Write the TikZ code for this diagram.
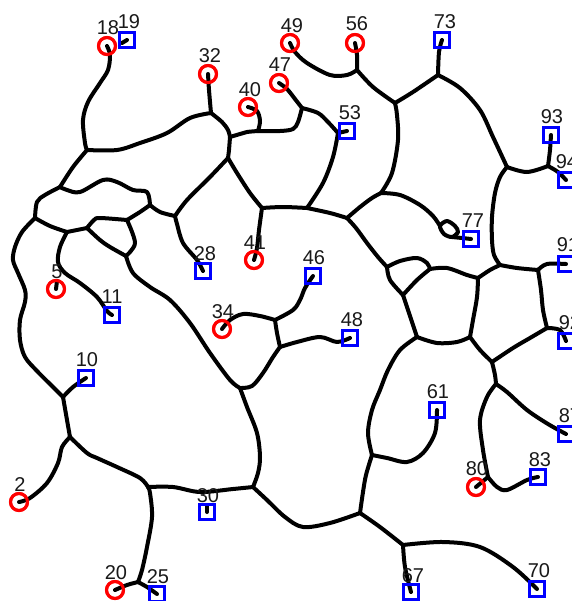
\documentclass[tikz,border=0pt]{standalone}
\usepackage{fontspec}
\setmainfont{Liberation Sans}
\begin{document}
\begin{tikzpicture}[x=0.75pt,y=-0.75pt]
\tikzset{
 edge/.style={line width=3pt, line cap=round, line join=round, draw=black},
 sm/.style={smooth, tension=0.55},
 redm/.style={circle, draw=red, line width=2.2pt, minimum size=12.8pt, inner sep=0pt},
 bluem/.style={rectangle, draw=blue, line width=1.9pt, minimum size=11.3pt, inner sep=0pt},
 lab/.style={font=\fontsize{15}{16}\selectfont, text=black!90, inner sep=0pt}
}
\useasboundingbox (0,0) rectangle (572,601);
\clip (0,0) rectangle (572,601);
\fill[white] (0,0) rectangle (572,601);

% markers (positions)
\node[redm] (m18) at (107,46) {};
\node[bluem] (m19) at (127,40) {};
\node[redm] (m32) at (208,74) {};
\node[redm] (m40) at (248,107) {};
\node[redm] (m47) at (279,83) {};
\node[redm] (m49) at (290,43) {};
\node[redm] (m56) at (355,43) {};
\node[redm] (m41) at (254,260) {};
\node[redm] (m5) at (56,289) {};
\node[redm] (m34) at (222,329) {};
\node[redm] (m2) at (19,502) {};
\node[redm] (m20) at (115,590) {};
\node[redm] (m80) at (476,487) {};
\node[bluem] (m73) at (442,40) {};
\node[bluem] (m53) at (347,131) {};
\node[bluem] (m93) at (551,135) {};
\node[bluem] (m94) at (566,180) {};
\node[bluem] (m77) at (471,239) {};
\node[bluem] (m28) at (203,271) {};
\node[bluem] (m46) at (313,276) {};
\node[bluem] (m91) at (566,264) {};
\node[bluem] (m11) at (112,315) {};
\node[bluem] (m48) at (350,338) {};
\node[bluem] (m92) at (566,341) {};
\node[bluem] (m10) at (86,378) {};
\node[bluem] (m61) at (437,410) {};
\node[bluem] (m87) at (566,434) {};
\node[bluem] (m83) at (538,477) {};
\node[bluem] (m30) at (207,512) {};
\node[bluem] (m25) at (157,594) {};
\node[bluem] (m67) at (411,592) {};
\node[bluem] (m70) at (537,589) {};

% junctions
\coordinate (J1) at (87,150);
\coordinate (J2) at (211,113);
\coordinate (J3) at (230,137);
\coordinate (J4) at (228,158);
\coordinate (K40) at (258,131);
\coordinate (J5) at (60,187);
\coordinate (J6) at (150,205);
\coordinate (J7) at (175,216);
\coordinate (J8) at (127,220);
\coordinate (J9) at (35,218);
\coordinate (J10) at (67,232);
\coordinate (J11) at (87,228);
\coordinate (J12) at (126,256);
\coordinate (J13) at (63,397);
\coordinate (J14) at (240,388);
\coordinate (J15) at (262,208);
\coordinate (J16) at (275,320);
\coordinate (J17) at (280,347);
\coordinate (J18) at (302,108);
\coordinate (J19) at (338,133);
\coordinate (J20) at (307,208);
\coordinate (J21) at (347,218);
\coordinate (J22) at (381,193);
\coordinate (J23) at (357,70);
\coordinate (J24) at (395,103);
\coordinate (J25) at (438,75);
\coordinate (J26) at (507,167);
\coordinate (J27) at (548,166);
\coordinate (J28) at (387,267);
\coordinate (J29) at (430,269);
\coordinate (J30) at (403,295);
\coordinate (J31) at (478,278);
\coordinate (J32) at (500,265);
\coordinate (J33) at (538,270);
\coordinate (J34) at (547,328);
\coordinate (J35) at (417,337);
\coordinate (J36) at (470,337);
\coordinate (J37) at (492,362);
\coordinate (J38) at (496,384);
\coordinate (J39) at (488,477);
\coordinate (J40) at (372,455);
\coordinate (J41) at (360,513);
\coordinate (J42) at (403,545);
\coordinate (J43) at (70,437);
\coordinate (J44) at (148,487);
\coordinate (J45) at (253,487);
\coordinate (J46) at (138,582);
\coordinate (L77a) at (440,226);
\coordinate (L77b) at (452,237);

% edges
\draw[edge] plot[sm] coordinates {(m18.center) (110,55) (108,70) (100,83) (88,102) (83,120) (85,143) (J1)};
\draw[edge] plot[sm] coordinates {(J1) (117,150) (140,143) (167,133) (190,118) (J2)};
\draw[edge] plot[sm] coordinates {(m32.center) (209,90) (J2)};
\draw[edge] plot[sm] coordinates {(J2) (222,122) (228,130) (J3)};
\draw[edge] plot[sm] coordinates {(J3) (229,150) (J4)};
\draw[edge] plot[sm] coordinates {(J3) (240,134) (247,132) (K40)};
\draw[edge] plot[sm] coordinates {(K40) (280,131) (293,129) (298,122) (J18)};
\draw[edge] plot[sm] coordinates {(m40.center) (257,111) (260,121) (K40)};
\draw[edge] plot[sm] coordinates {(m47.center) (287,89) (295,99) (J18)};
\draw[edge] plot[sm] coordinates {(J18) (318,113) (328,122) (J19)};
\draw[edge] (J19) -- (m53.center);
\draw[edge] plot[sm] coordinates {(J19) (333,157) (323,183) (J20)};
\draw[edge] plot[sm] coordinates {(J4) (210,177) (187,200) (J7)};
\draw[edge] plot[sm] coordinates {(J4) (237,173) (250,193) (J15)};
\draw[edge] plot[sm] coordinates {(J15) (259,230) (257,248) (m41.center)};
\draw[edge] plot[sm] coordinates {(J15) (283,207) (J20)};
\draw[edge] plot[sm] coordinates {(J20) (330,213) (J21)};
\draw[edge] plot[sm] coordinates {(J21) (360,207) (372,198) (J22)};
\draw[edge] plot[sm] coordinates {(J22) (392,173) (398,140) (397,115) (J24)};
\draw[edge] plot[sm] coordinates {(J22) (400,195) (420,205) (433,216) (L77a)};
\draw[edge] plot[smooth cycle, tension=0.5] coordinates {(L77a) (447,221) (455,226) (458,232) (L77b) (444,234)};
\draw[edge] plot[sm] coordinates {(L77b) (462,238) (m77.center)};
\draw[edge] plot[sm] coordinates {(m49.center) (295,52) (307,63) (330,75) (347,75) (J23)};
\draw[edge] plot[sm] coordinates {(m56.center) (357,55) (J23)};
\draw[edge] plot[sm] coordinates {(J23) (373,87) (J24)};
\draw[edge] plot[sm] coordinates {(J24) (413,92) (J25)};
\draw[edge] plot[sm] coordinates {(m73.center) (439,52) (J25)};
\draw[edge] plot[sm] coordinates {(J25) (460,88) (480,110) (493,137) (J26)};
\draw[edge] plot[sm] coordinates {(J26) (527,172) (J27)};
\draw[edge] plot[sm] coordinates {(m93.center) (550,150) (J27)};
\draw[edge] plot[sm] coordinates {(J27) (558,172) (m94.center)};
\draw[edge] plot[sm] coordinates {(J26) (500,177) (495,193) (492,217) (492,240) (494,255) (J32)};
\draw[edge] plot[sm] coordinates {(J21) (356,228) (367,243) (378,257) (J28)};
\draw[edge] plot[sm] coordinates {(J28) (400,261) (417,258) (427,263) (J29)};
\draw[edge] plot[sm] coordinates {(J28) (390,280) (J30)};
\draw[edge] plot[sm] coordinates {(J29) (417,280) (J30)};
\draw[edge] plot[sm] coordinates {(J29) (447,268) (467,275) (J31)};
\draw[edge] plot[sm] coordinates {(J31) (490,270) (J32)};
\draw[edge] plot[sm] coordinates {(J32) (517,268) (J33)};
\draw[edge] plot[sm] coordinates {(J33) (547,264) (m91.center)};
\draw[edge] plot[sm] coordinates {(J33) (541,290) (543,310) (J34)};
\draw[edge] plot[sm] coordinates {(J34) (560,330) (m92.center)};
\draw[edge] plot[sm] coordinates {(J30) (408,310) (413,325) (J35)};
\draw[edge] plot[sm] coordinates {(J35) (437,343) (457,342) (J36)};
\draw[edge] plot[sm] coordinates {(J31) (477,297) (473,320) (J36)};
\draw[edge] plot[sm] coordinates {(J36) (480,350) (J37)};
\draw[edge] plot[sm] coordinates {(J37) (513,348) (530,338) (J34)};
\draw[edge] plot[sm] coordinates {(J37) (495,375) (J38)};
\draw[edge] plot[sm] coordinates {(J38) (487,397) (480,420) (483,450) (J39)};
\draw[edge] (J39) -- (m80.center);
\draw[edge] plot[sm] coordinates {(J39) (497,487) (507,490) (527,480) (m83.center)};
\draw[edge] plot[sm] coordinates {(J38) (507,392) (527,410) (548,424) (m87.center)};
\draw[edge] plot[sm] coordinates {(J35) (400,350) (388,370) (380,390) (372,410) (368,433) (J40)};
\draw[edge] plot[sm] coordinates {(m61.center) (435,433) (423,453) (407,462) (387,458) (J40)};
\draw[edge] plot[sm] coordinates {(J40) (366,475) (363,492) (J41)};
\draw[edge] plot[sm] coordinates {(J41) (380,527) (J42)};
\draw[edge] plot[sm] coordinates {(J42) (405,567) (m67.center)};
\draw[edge] plot[sm] coordinates {(J42) (443,542) (480,547) (513,567) (m70.center)};
\draw[edge] plot[sm] coordinates {(J41) (330,523) (303,527) (285,517) (267,500) (J45)};
\draw[edge] plot[sm] coordinates {(J45) (233,489) (200,492) (173,487) (J44)};
\draw[edge] plot[sm] coordinates {(J14) (247,407) (257,433) (260,457) (258,473) (J45)};
\draw[edge] plot[sm] coordinates {(J43) (87,453) (97,458) (117,467) (140,478) (J44)};
\draw[edge] plot[sm] coordinates {(J43) (62,447) (58,463) (47,483) (30,498) (m2.center)};
\draw[edge] plot[sm] coordinates {(J13) (67,420) (J43)};
\draw[edge] plot[sm] coordinates {(J13) (73,387) (m10.center)};
\draw[edge] plot[sm] coordinates {(J9) (22,232) (15,247) (13,260) (18,273) (25,290) (25,302) (20,320) (20,340) (25,357) (37,371) (53,387) (J13)};
\draw[edge] plot[sm] coordinates {(J44) (150,493) (152,517) (147,547) (142,570) (J46)};
\draw[edge] plot[sm] coordinates {(J46) (127,585) (m20.center)};
\draw[edge] plot[sm] coordinates {(J46) (147,587) (m25.center)};
\draw[edge] plot[sm] coordinates {(J12) (133,273) (150,287) (170,300) (190,323) (210,353) (230,380) (J14)};
\draw[edge] plot[sm] coordinates {(J14) (252,386) (263,373) (273,357) (J17)};
\draw[edge] plot[sm] coordinates {(J17) (297,342) (320,337) (337,342) (m48.center)};
\draw[edge] plot[sm] coordinates {(J17) (277,333) (J16)};
\draw[edge] plot[sm] coordinates {(J16) (260,316) (243,314) (230,320) (m34.center)};
\draw[edge] plot[sm] coordinates {(J16) (293,310) (300,300) (305,288) (m46.center)};
\draw[edge] plot[sm] coordinates {(J1) (73,167) (J5)};
\draw[edge] plot[sm] coordinates {(J5) (67,190) (80,192) (103,180) (117,182) (133,190) (147,192) (J6)};
\draw[edge] plot[sm] coordinates {(J6) (160,212) (J7)};
\draw[edge] plot[sm] coordinates {(J6) (140,212) (J8)};
\draw[edge] plot[sm] coordinates {(J5) (45,195) (37,202) (J9)};
\draw[edge] plot[sm] coordinates {(J9) (50,226) (J10)};
\draw[edge] (J10) -- (J11);
\draw[edge] plot[sm] coordinates {(J11) (94,220) (100,218) (J8)};
\draw[edge] plot[sm] coordinates {(J8) (135,243) (J12)};
\draw[edge] plot[sm] coordinates {(J11) (100,240) (110,247) (J12)};
\draw[edge] plot[sm] coordinates {(J10) (60,247) (58,262) (65,273) (80,283) (97,297) (107,311) (m11.center)};
\draw[edge] plot[sm] coordinates {(J7) (177,224) (183,243) (197,260) (m28.center)};
% unconnected stubs
\draw[edge] (m19.center) -- ++(-5,3);
\draw[edge] (m30.center) -- ++(0,-7);
\draw[edge] (m5.center) -- ++(1,-8);

% redraw markers on top
\foreach \m in {m18,m32,m40,m47,m49,m56,m41,m5,m34,m2,m20,m80}
  \draw[red, line width=2.3pt] (\m.center) circle (6.4pt);
\foreach \m in {m19,m73,m53,m93,m94,m77,m28,m46,m91,m11,m48,m92,m10,m61,m87,m83,m30,m25,m67,m70}
  \draw[blue, line width=2pt] ([shift={(-7.5,-7.5)}]\m.center) rectangle ([shift={(7.5,7.5)}]\m.center);

% labels
\node[lab] (t18) at (108,28) {18};
\node[lab] (t19) at (129,22) {19};
\node[lab] (t32) at (210,56) {32};
\node[lab] (t40) at (250,90) {40};
\node[lab] (t47) at (280,65) {47};
\node[lab] (t49) at (292,26) {49};
\node[lab] (t56) at (357,24) {56};
\node[lab] (t73) at (445,22) {73};
\node[lab] (t53) at (350,113) {53};
\node[lab] (t93) at (552,117) {93};
\node[lab] (t94) at (567,162) {94};
\node[lab] (t28) at (205,254) {28};
\node[lab] (t41) at (255,243) {41};
\node[lab] (t5) at (57,272) {5};
\node[lab] (t11) at (112,297) {11};
\node[lab] (t34) at (223,312) {34};
\node[lab] (t10) at (87,360) {10};
\node[lab] (t46) at (314,258) {46};
\node[lab] (t48) at (352,320) {48};
\node[lab] (t77) at (473,221) {77};
\node[lab] (t91) at (568,245) {91};
\node[lab] (t61) at (438,392) {61};
\node[lab] (t92) at (570,323) {92};
\node[lab] (t87) at (570,416) {87};
\node[lab] (t83) at (540,460) {83};
\node[lab] (t80) at (477,469) {80};
\node[lab] (t70) at (539,571) {70};
\node[lab] (t67) at (413,576) {67};
\node[lab] (t2) at (20,485) {2};
\node[lab] (t20) at (116,573) {20};
\node[lab] (t25) at (158,577) {25};
\node[lab] (t30) at (208,496) {30};
\end{tikzpicture}
\end{document}
